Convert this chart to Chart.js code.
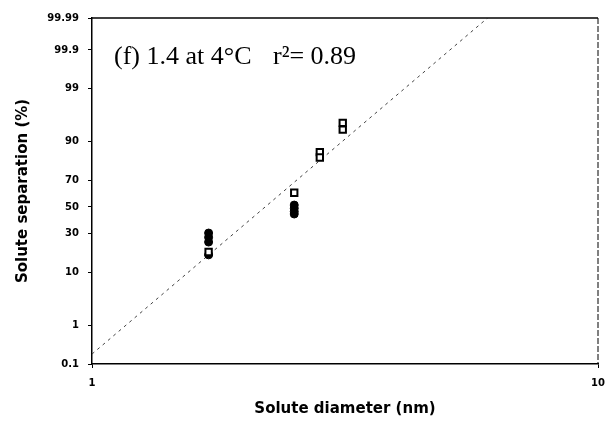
<!DOCTYPE html>
<html>
<head>
<meta charset="utf-8">
<script src="https://cdn.jsdelivr.net/npm/chart.js@4.4.0/dist/chart.umd.min.js"></script>
<style>
  html, body { margin: 0; padding: 0; background: #fff; }
  #wrap { width: 606px; height: 425px; }
</style>
</head>
<body>
<div id="wrap"><canvas id="chartCanvas" width="606" height="425"></canvas></div>
<script>
// values (diameter in nm, separation in %)
const yTickLabels = ["0.1", "1", "10", "30", "50", "70", "90", "99", "99.9", "99.99"];
const xTickLabels = ["1", "10"];

const openDiameter = [1.70, 2.51, 2.82, 2.82, 3.13, 3.13];
const openSeparation = [18.8, 61, 86, 83.5, 95.1, 93.6];

const filledDiameter = [1.70, 1.70, 1.70, 1.70, 2.51, 2.51, 2.51, 2.51];
const filledSeparation = [30.4, 27.5, 24.5, 17.3, 51.5, 49, 46.5, 44.5];

const fitDiameter = [1, 6.05];
const fitSeparation = [0.19, 99.99];

// inverse normal cdf, used to put percentages on a probability axis
function probit(pct) {
  const p = pct / 100;
  const a = [-39.6968302866538, 220.946098424521, -275.928510446969, 138.357751867269, -30.6647980661472, 2.50662827745924];
  const b = [-54.4760987982241, 161.585836858041, -155.698979859887, 66.8013118877197, -13.2806815528857];
  const c = [-0.00778489400243029, -0.322396458041136, -2.40075827716184, -2.54973253934373, 4.37466414146497, 2.93816398269878];
  const d = [0.00778469570904146, 0.32246712907004, 2.445134137143, 3.75440866190742];
  const pl = 0.02425;
  let q, r;
  if (p < pl) {
    q = Math.sqrt(-2 * Math.log(p));
    return (((((c[0]*q+c[1])*q+c[2])*q+c[3])*q+c[4])*q+c[5]) / ((((d[0]*q+d[1])*q+d[2])*q+d[3])*q+1);
  } else if (p <= 1 - pl) {
    q = p - 0.5; r = q * q;
    return (((((a[0]*r+a[1])*r+a[2])*r+a[3])*r+a[4])*r+a[5])*q / (((((b[0]*r+b[1])*r+b[2])*r+b[3])*r+b[4])*r+1);
  }
  q = Math.sqrt(-2 * Math.log(1 - p));
  return -(((((c[0]*q+c[1])*q+c[2])*q+c[3])*q+c[4])*q+c[5]) / ((((d[0]*q+d[1])*q+d[2])*q+d[3])*q+1);
}

function toPoints(xs, ys) {
  return xs.map((x, i) => ({ x: x, y: probit(ys[i]) }));
}

const tickFont = { family: "DejaVu Sans", size: 10, weight: "bold" };
const titleFont = { family: "DejaVu Sans", size: 15, weight: "bold" };

const frame = {
  id: "frame",
  afterDraw(chart) {
    const { ctx, chartArea } = chart;
    ctx.save();
    ctx.strokeStyle = "#000";
    ctx.lineWidth = 1.5;
    ctx.beginPath();
    ctx.moveTo(chartArea.left, chartArea.top);
    ctx.lineTo(chartArea.right, chartArea.top);
    ctx.stroke();
    ctx.lineWidth = 1;
    ctx.setLineDash([6, 2]);
    ctx.beginPath();
    ctx.moveTo(chartArea.right, chartArea.top);
    ctx.lineTo(chartArea.right, chartArea.bottom);
    ctx.stroke();
    ctx.setLineDash([]);
    ctx.fillStyle = "#000";
    ctx.font = "26px 'Liberation Serif'";
    ctx.textBaseline = "alphabetic";
    ctx.fillText("(f) 1.4 at 4\u00B0C", 114, 64);
    ctx.fillText("r\u00B2= 0.89", 273, 64);
    ctx.restore();
  },
};

// first dataset is drawn on top
const chart = new Chart(document.getElementById("chartCanvas"), {
  type: "scatter",
  data: {
    datasets: [
      {
        data: toPoints(openDiameter, openSeparation),
        pointStyle: "rect",
        pointRadius: 4.5,
        backgroundColor: "#fff",
        borderColor: "#000",
        borderWidth: 2,
      },
      {
        data: toPoints(filledDiameter, filledSeparation),
        pointStyle: "circle",
        pointRadius: 4,
        backgroundColor: "#000",
        borderColor: "#000",
        borderWidth: 1,
      },
      {
        data: toPoints(fitDiameter, fitSeparation),
        showLine: true,
        borderColor: "#444",
        borderWidth: 1,
        borderDash: [3, 4],
        pointRadius: 0,
      },
    ],
  },
  options: {
    responsive: false,
    animation: false,
    layout: { padding: { top: 18, right: 0, left: 0, bottom: 0 } },
    plugins: { legend: { display: false }, tooltip: { enabled: false } },
    scales: {
      x: {
        type: "logarithmic",
        min: 1,
        max: 10,
        afterBuildTicks: (scale) => {
          scale.ticks = xTickLabels.map((t) => ({ value: Number(t) }));
        },
        afterFit: (scale) => {
          scale.height = 61;
          scale.paddingLeft = 0;
          scale.paddingRight = 8;
        },
        ticks: {
          color: "#000",
          font: tickFont,
          padding: 9,
          maxRotation: 0,
          callback: (value, index) => xTickLabels[index],
        },
        grid: { drawOnChartArea: false, drawTicks: true, tickLength: 4, color: "#000" },
        border: { display: true, color: "#000", width: 1.5 },
        title: { display: true, text: "Solute diameter (nm)", color: "#000", font: titleFont, padding: { top: 0, bottom: 7 } },
      },
      y: {
        type: "linear",
        min: probit(0.1),
        max: probit(99.99),
        afterBuildTicks: (scale) => {
          scale.ticks = yTickLabels.map((t) => ({ value: probit(Number(t)) }));
        },
        afterFit: (scale) => { scale.width = 92; },
        ticks: {
          color: "#000",
          font: tickFont,
          padding: 9,
          callback: (value, index) => yTickLabels[index],
        },
        grid: { drawOnChartArea: false, drawTicks: true, tickLength: 4, color: "#000" },
        border: { display: true, color: "#000", width: 1.5 },
        title: { display: true, text: "Solute separation (%)", color: "#000", font: titleFont, padding: { top: 14, bottom: 0 } },
      },
    },
  },
  plugins: [frame],
});
</script>
</body>
</html>
